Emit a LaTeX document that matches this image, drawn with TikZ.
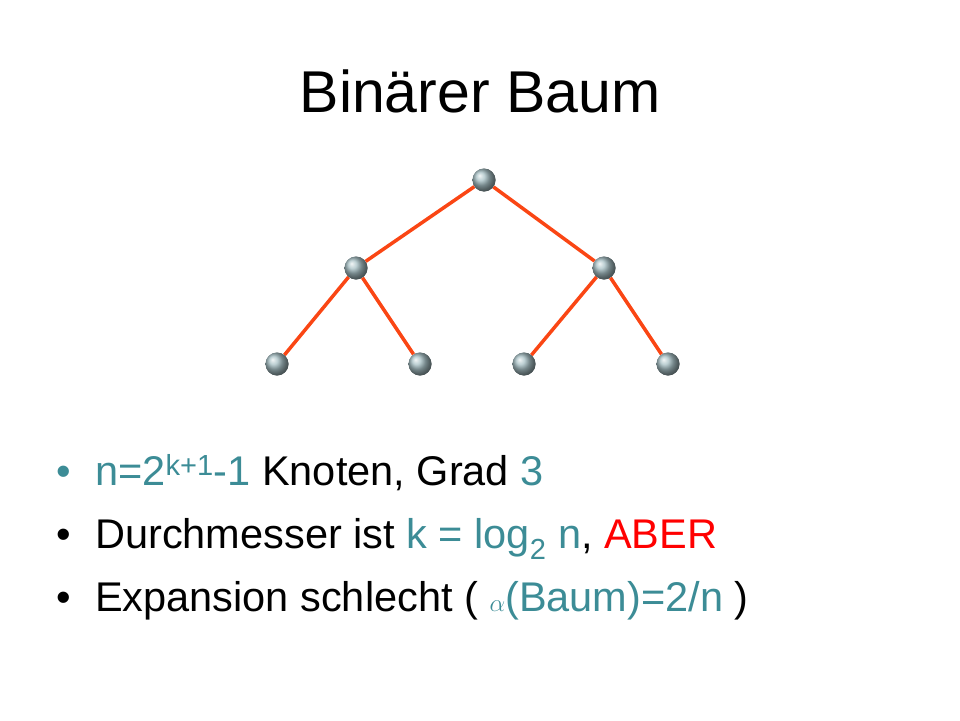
\documentclass[tikz,border=0pt]{standalone}
\usepackage{fontspec}
\setmainfont{Liberation Sans}
\definecolor{tealc}{RGB}{60,140,150}
\definecolor{edgec}{RGB}{250,70,20}
\definecolor{ballc}{RGB}{165,190,195}
\begin{document}
\begin{tikzpicture}[x=1pt,y=-1pt,
  vtx/.style={circle,minimum size=23pt,inner sep=0pt,shading=ball,ball color=ballc},
  edge/.style={edgec,line width=3.5pt},
  txt/.style={anchor=base west,inner sep=0pt,font=\fontsize{41.5}{48}\selectfont}]
\useasboundingbox (0,0) rectangle (960,720);
\node[font=\fontsize{59}{66}\selectfont,anchor=base] (title) at (480,112) {Binärer Baum};
\node[vtx] (r) at (484,180) {};
\node[vtx] (a) at (356,268) {};
\node[vtx] (b) at (604,268) {};
\node[vtx] (a1) at (277,364) {};
\node[vtx] (a2) at (420,364) {};
\node[vtx] (b1) at (524,364) {};
\node[vtx] (b2) at (668,364) {};
\draw[edge] (r) -- (a); \draw[edge] (r) -- (b);
\draw[edge] (a) -- (a1); \draw[edge] (a) -- (a2);
\draw[edge] (b) -- (b1); \draw[edge] (b) -- (b2);
\foreach \n in {r,a,b,a1,a2,b1,b2}{\node[vtx] at (\n) {};}
\node[txt,tealc] (d1) at (56,485) {•};
\node[txt] (l1) at (95,485) {\textcolor{tealc}{n=2\textsuperscript{k+1}-1} Knoten, Grad \textcolor{tealc}{3}};
\node[txt] (d2) at (56,548) {•};
\node[txt] (l2) at (95,548) {Durchmesser ist \textcolor{tealc}{k = log\textsubscript{2} n}, \textcolor{red}{ABER}};
\node[txt] (d3) at (56,611) {•};
\node[txt] (l3) at (95,611) {Expansion schlecht ( \textcolor{tealc}{$\alpha$(Baum)=2/n} )};
\end{tikzpicture}
\end{document}
